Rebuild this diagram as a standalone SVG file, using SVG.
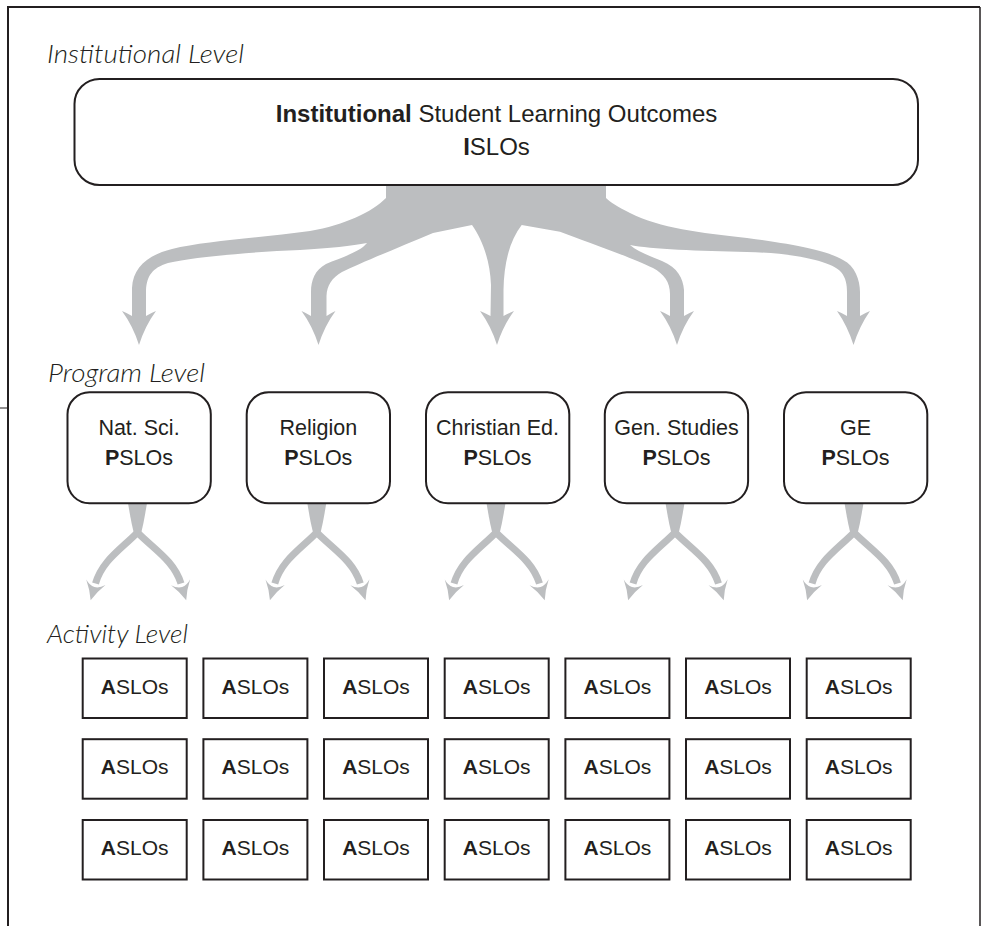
<svg xmlns="http://www.w3.org/2000/svg" xmlns:xlink="http://www.w3.org/1999/xlink" width="985" height="926" viewBox="0 0 985 926">
  <style>
    .frame { stroke: #231f20; fill: none; }
    .box { fill: #ffffff; stroke: #231f20; stroke-width: 2; }
    .flow { fill: #bcbec0; }
    .arm { fill: none; stroke: #bcbec0; stroke-width: 7; }
    .lvl { font-family: Lato, "Liberation Sans", sans-serif; font-style: italic; font-weight: 300; font-size: 25.5px; fill: #231f20; }
    .t24 { font-family: "Liberation Sans", Arial, sans-serif; font-size: 24px; fill: #231f20; text-anchor: middle; }
    .t21 { font-family: "Liberation Sans", Arial, sans-serif; font-size: 21.5px; fill: #231f20; text-anchor: middle; }
    .ta { font-family: "Liberation Sans", Arial, sans-serif; font-size: 21px; fill: #231f20; text-anchor: middle; }
    .b { font-weight: bold; }
  </style>
  <defs>
    <marker id="subhead" markerUnits="userSpaceOnUse" orient="auto" refX="0" refY="0" markerWidth="30" markerHeight="30" viewBox="-5 -12 24 24" overflow="visible">
      <path d="M14,0 Q6,-3 -1,-8 Q3,-4 3,0 Q3,4 -1,8 Q6,3 14,0 Z" fill="#bcbec0"/>
    </marker>
    <g id="fork">
      <path class="flow" d="M-11,503 L8,503 C6,515 4,527 1,537 L-4,537 C-7,527 -9,515 -11,503 Z"/>
      <path class="arm" d="M-2,533 C-19,550 -37,561 -43.5,583.5" marker-end="url(#subhead)"/>
      <path class="arm" d="M-1,533 C16,550 35,561 42,583.5" marker-end="url(#subhead)"/>
    </g>
  </defs>

  <g id="frame">
    <path class="frame" stroke-width="2" d="M8,926 L8,7 L980,7"/>
    <path class="frame" stroke-width="1.5" d="M980,7 L980,926"/>
    <path class="frame" stroke-width="1" d="M0,408 L8,408"/>
  </g>

  <g id="connectors">
    <path class="flow" d="M386,185 L386,198
      C372,212 345,225 310,231
      C260,238 205,241 172,249
      C148,255 133,267 132,288
      L132,316
      Q127,313 122,311 Q133,326 139,345 Q145,326 156,311 Q151,313 146,316
      L146,290
      C147,276 152,268 168,263
      C195,257 250,252 300,250
      C330,248 352,246 367,243
      C360,252 340,258 326,264
      C315,270 311,280 311,292
      L311,316
      Q306,313 301.5,311 Q312.5,326 318.5,345 Q324.5,326 335.5,311 Q331,313 326.5,316
      L326.5,296
      C327,285 332,278 342,272
      C360,263 400,247 433,233
      L472,225
      C481,238 490,258 491,285
      L490.5,316
      Q485,313 480,311 Q491,326 497,345 Q503,326 514,311 Q509,313 503.5,316
      L503.5,290
      C504,262 510,240 521.7,225
      L560,231.7
      C585,241 630,257 653,268
      C664,274 670,282 670,294
      L670,316
      Q665,313 660,311 Q671,326 677,345 Q683,326 694,311 Q689,313 684,316
      L684,290
      C683,278 678,268 662,261
      C650,256 638,252 630,245
      C650,249 700,251 747,252
      C790,253 830,260 841,272
      C846,278 847,285 847,292
      L847,316
      Q842,313 837,311 Q847.5,326 853.5,345 Q859.5,326 870,311 Q865,313 860,316
      L860,292
      C860,280 855,266 843,260
      C830,252 800,245 747,238
      C700,233 660,228 630,213
      C618,207 610,202 606,198
      L606,185 Z"/>
    <use xlink:href="#fork" href="#fork" x="139" y="0"/>
    <use xlink:href="#fork" href="#fork" x="318.3" y="0"/>
    <use xlink:href="#fork" href="#fork" x="497.5" y="0"/>
    <use xlink:href="#fork" href="#fork" x="676.5" y="0"/>
    <use xlink:href="#fork" href="#fork" x="855.5" y="0"/>
  </g>

  <g id="labels">
    <text class="lvl" x="47" y="63" textLength="197" lengthAdjust="spacingAndGlyphs">Institutional Level</text>
    <text class="lvl" x="48" y="382" textLength="157" lengthAdjust="spacingAndGlyphs">Program Level</text>
    <text class="lvl" x="47" y="643" textLength="141" lengthAdjust="spacingAndGlyphs">Activity Level</text>
  </g>

  <g id="islo">
    <rect class="box" x="74.5" y="79" width="843.5" height="106" rx="25" ry="25"/>
    <text class="t24" x="496.5" y="121.5"><tspan class="b">Institutional</tspan> Student Learning Outcomes</text>
    <text class="t24" x="496.5" y="155"><tspan class="b">I</tspan>SLOs</text>
  </g>

  <g id="p-natsci">
    <rect class="box" x="67.5" y="392.3" width="143.3" height="111" rx="22" ry="22"/>
    <text class="t21" x="139" y="435">Nat. Sci.</text>
    <text class="t21" x="139" y="465"><tspan class="b">P</tspan>SLOs</text>
  </g>
  <g id="p-religion">
    <rect class="box" x="246.7" y="392.3" width="143.3" height="111" rx="22" ry="22"/>
    <text class="t21" x="318.3" y="435">Religion</text>
    <text class="t21" x="318.3" y="465"><tspan class="b">P</tspan>SLOs</text>
  </g>
  <g id="p-christian">
    <rect class="box" x="426" y="392.3" width="143.3" height="111" rx="22" ry="22"/>
    <text class="t21" x="497.5" y="435">Christian Ed.</text>
    <text class="t21" x="497.5" y="465"><tspan class="b">P</tspan>SLOs</text>
  </g>
  <g id="p-genstudies">
    <rect class="box" x="604.8" y="392.3" width="143.3" height="111" rx="22" ry="22"/>
    <text class="t21" x="676.5" y="435">Gen. Studies</text>
    <text class="t21" x="676.5" y="465"><tspan class="b">P</tspan>SLOs</text>
  </g>
  <g id="p-ge">
    <rect class="box" x="784" y="392.3" width="143.3" height="111" rx="22" ry="22"/>
    <text class="t21" x="855.5" y="435">GE</text>
    <text class="t21" x="855.5" y="465"><tspan class="b">P</tspan>SLOs</text>
  </g>

  <g id="a-r1c1"><rect class="box" x="82.7" y="658.5" width="104" height="59.5"/><text class="ta" x="134.7" y="693.5"><tspan class="b">A</tspan>SLOs</text></g>
  <g id="a-r1c2"><rect class="box" x="203.4" y="658.5" width="104" height="59.5"/><text class="ta" x="255.4" y="693.5"><tspan class="b">A</tspan>SLOs</text></g>
  <g id="a-r1c3"><rect class="box" x="324" y="658.5" width="104" height="59.5"/><text class="ta" x="376" y="693.5"><tspan class="b">A</tspan>SLOs</text></g>
  <g id="a-r1c4"><rect class="box" x="444.7" y="658.5" width="104" height="59.5"/><text class="ta" x="496.7" y="693.5"><tspan class="b">A</tspan>SLOs</text></g>
  <g id="a-r1c5"><rect class="box" x="565.4" y="658.5" width="104" height="59.5"/><text class="ta" x="617.4" y="693.5"><tspan class="b">A</tspan>SLOs</text></g>
  <g id="a-r1c6"><rect class="box" x="686" y="658.5" width="104" height="59.5"/><text class="ta" x="738" y="693.5"><tspan class="b">A</tspan>SLOs</text></g>
  <g id="a-r1c7"><rect class="box" x="806.7" y="658.5" width="104" height="59.5"/><text class="ta" x="858.7" y="693.5"><tspan class="b">A</tspan>SLOs</text></g>

  <g id="a-r2c1"><rect class="box" x="82.7" y="739.2" width="104" height="59.5"/><text class="ta" x="134.7" y="774.2"><tspan class="b">A</tspan>SLOs</text></g>
  <g id="a-r2c2"><rect class="box" x="203.4" y="739.2" width="104" height="59.5"/><text class="ta" x="255.4" y="774.2"><tspan class="b">A</tspan>SLOs</text></g>
  <g id="a-r2c3"><rect class="box" x="324" y="739.2" width="104" height="59.5"/><text class="ta" x="376" y="774.2"><tspan class="b">A</tspan>SLOs</text></g>
  <g id="a-r2c4"><rect class="box" x="444.7" y="739.2" width="104" height="59.5"/><text class="ta" x="496.7" y="774.2"><tspan class="b">A</tspan>SLOs</text></g>
  <g id="a-r2c5"><rect class="box" x="565.4" y="739.2" width="104" height="59.5"/><text class="ta" x="617.4" y="774.2"><tspan class="b">A</tspan>SLOs</text></g>
  <g id="a-r2c6"><rect class="box" x="686" y="739.2" width="104" height="59.5"/><text class="ta" x="738" y="774.2"><tspan class="b">A</tspan>SLOs</text></g>
  <g id="a-r2c7"><rect class="box" x="806.7" y="739.2" width="104" height="59.5"/><text class="ta" x="858.7" y="774.2"><tspan class="b">A</tspan>SLOs</text></g>

  <g id="a-r3c1"><rect class="box" x="82.7" y="820" width="104" height="59.5"/><text class="ta" x="134.7" y="855"><tspan class="b">A</tspan>SLOs</text></g>
  <g id="a-r3c2"><rect class="box" x="203.4" y="820" width="104" height="59.5"/><text class="ta" x="255.4" y="855"><tspan class="b">A</tspan>SLOs</text></g>
  <g id="a-r3c3"><rect class="box" x="324" y="820" width="104" height="59.5"/><text class="ta" x="376" y="855"><tspan class="b">A</tspan>SLOs</text></g>
  <g id="a-r3c4"><rect class="box" x="444.7" y="820" width="104" height="59.5"/><text class="ta" x="496.7" y="855"><tspan class="b">A</tspan>SLOs</text></g>
  <g id="a-r3c5"><rect class="box" x="565.4" y="820" width="104" height="59.5"/><text class="ta" x="617.4" y="855"><tspan class="b">A</tspan>SLOs</text></g>
  <g id="a-r3c6"><rect class="box" x="686" y="820" width="104" height="59.5"/><text class="ta" x="738" y="855"><tspan class="b">A</tspan>SLOs</text></g>
  <g id="a-r3c7"><rect class="box" x="806.7" y="820" width="104" height="59.5"/><text class="ta" x="858.7" y="855"><tspan class="b">A</tspan>SLOs</text></g>
</svg>
